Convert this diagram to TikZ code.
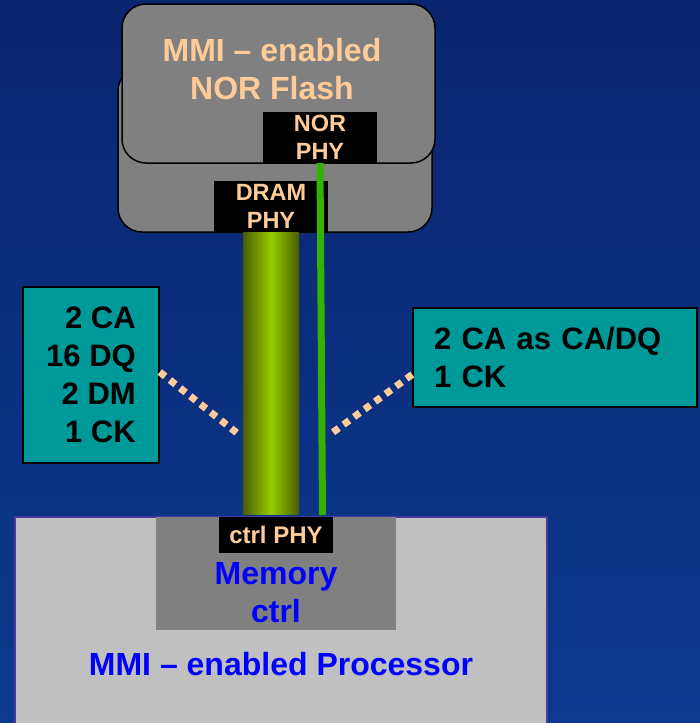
\documentclass[tikz,border=0pt]{standalone}
\usepackage{fontspec}
\setmainfont{Liberation Sans}
\usetikzlibrary{calc}

\definecolor{bgtop}{RGB}{10,36,110}
\definecolor{bgbot}{RGB}{12,58,144}
\definecolor{diegray}{RGB}{128,128,128}
\definecolor{peach}{RGB}{255,204,153}
\definecolor{sigteal}{RGB}{0,153,153}
\definecolor{procgray}{RGB}{192,192,192}
\definecolor{procedge}{RGB}{70,60,160}
\definecolor{txtblue}{RGB}{0,0,255}
\definecolor{busdark}{RGB}{72,92,0}
\definecolor{buslite}{RGB}{153,204,0}
\definecolor{wiregreen}{RGB}{51,179,0}

\begin{document}
\begin{tikzpicture}
        [
            x = 1pt, y = -1pt,
            diebox/.style   = {shape=rectangle, draw, line width=1.5pt, fill=diegray, rounded corners=24pt},
            phybox/.style   = {shape=rectangle, fill=black, text=peach, align=center, inner sep=0pt,
                               minimum width=114pt, font=\fontsize{23.5}{28}\selectfont\bfseries},
            sigbox/.style   = {shape=rectangle, draw, line width=1.5pt, fill=sigteal, inner sep=0pt,
                               font=\fontsize{31}{38}\selectfont\bfseries},
            bigtext/.style  = {align=center, inner sep=0pt, font=\fontsize{32}{38}\selectfont\bfseries},
            dots/.style     = {draw=peach, line width=7pt, dash pattern=on 7pt off 6pt},
            norwire/.style  = {draw=wiregreen, line width=7pt},
            ]
            \useasboundingbox (0,0) rectangle (700,723);
            \shade [top color=bgtop, bottom color=bgbot] (0,0) rectangle (700,723);

            % stacked dies
            \node [diebox, minimum width=314pt, minimum height=165pt] (dram) at (275,149.5) {};
            \node [diebox, minimum width=313pt, minimum height=159pt] (nor) at (278.5,83.5) {};
            \node [bigtext, text=peach] (nortxt) at (272,69) {MMI -- enabled\\NOR Flash};
            \node [phybox, minimum height=51pt] (norphy) at (320,137.5) {NOR\\PHY};
            \node [phybox, minimum height=51pt] (dramphy) at (271,206.5) {DRAM\\PHY};

            % processor
            \node [shape=rectangle, draw=procedge, line width=1.5pt, fill=procgray,
                   minimum width=532pt, minimum height=224pt] (proc) at (281,629) {};
            \node [shape=rectangle, fill=diegray, minimum width=240pt, minimum height=113pt] (memctrl) at (276,573.5) {};
            \node [phybox, minimum height=36pt, font=\fontsize{24}{28}\selectfont\bfseries] (ctrlphy) at (276,535) {ctrl PHY};
            \node [bigtext, text=txtblue] (memtxt) at (276,593) {Memory\\ctrl};
            \node [bigtext, text=txtblue] (proctxt) at (281,664) {MMI -- enabled Processor};

            % buses
            \coordinate (wireend) at (322.5,515);
            \shade [left color=busdark, right color=busdark, middle color=buslite]
                ($(dramphy.south)+(-28,0)$) rectangle ($(dramphy.south |- ctrlphy.north)+(28,-2)$);
            \draw [norwire] (norphy.south) -- (wireend);

            % signal boxes
            \node [sigbox, align=right, minimum width=136pt, minimum height=176pt] (lbox) at (91,375)
                {2 CA\\16 DQ\\2 DM\\1 CK};
            \node [sigbox, align=left, text width=242pt, minimum width=284pt, minimum height=99pt] (rbox) at (555,357.5)
                {2 CA as CA/DQ\\1 CK};
            \coordinate (ltap) at (237,433);
            \coordinate (rtap) at (332,433);
            \draw [dots] ([yshift=3pt]lbox.east) -- (ltap);
            \draw [dots] ([yshift=-17pt]rbox.west) -- (rtap);
        \end{tikzpicture}
\end{document}
